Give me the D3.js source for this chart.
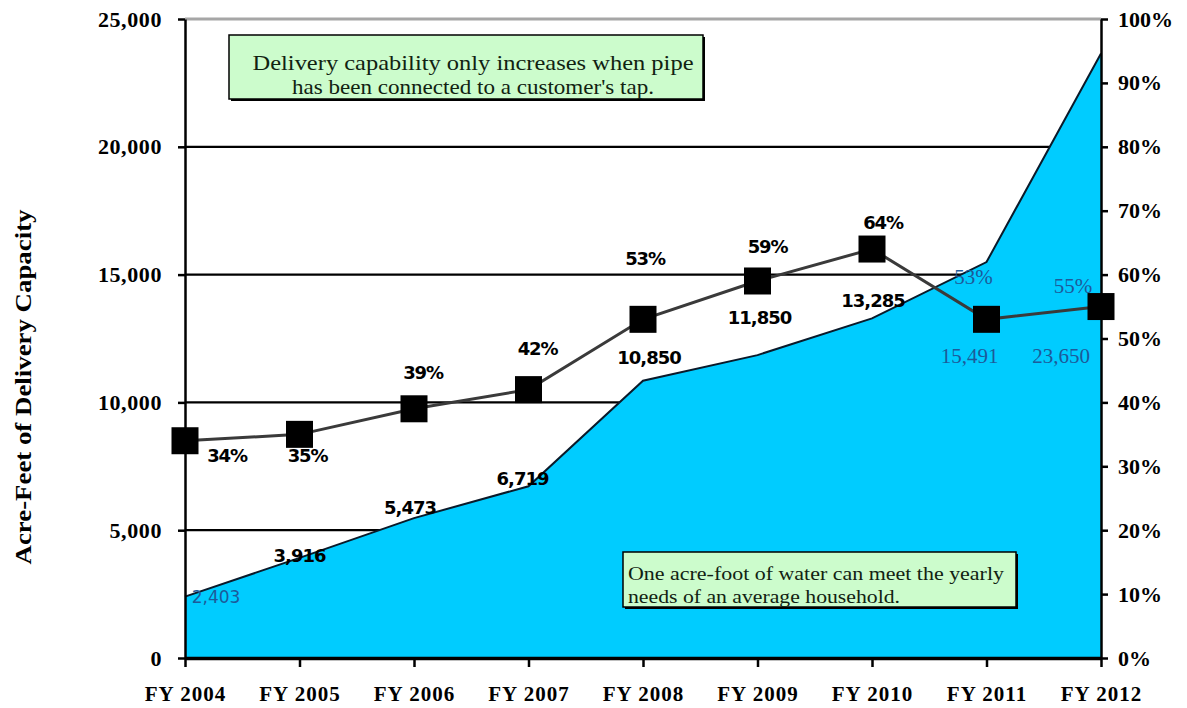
<!DOCTYPE html>
<html>
<head>
<meta charset="utf-8">
<script src="https://cdn.jsdelivr.net/npm/d3@7"></script>
<style>
  html, body { margin: 0; padding: 0; background: #fff; }
  svg { display: block; }
</style>
</head>
<body>
<svg id="chart" width="1187" height="708"></svg>
<script>
// ---- data ----
const years = ["FY 2004","FY 2005","FY 2006","FY 2007","FY 2008","FY 2009","FY 2010","FY 2011","FY 2012"];
const capacity = [2403, 3916, 5473, 6719, 10850, 11850, 13285, 15491, 23650];
const capacityLabels = ["2,403","3,916","5,473","6,719","10,850","11,850","13,285","15,491","23,650"];
const percent = [0.34, 0.35, 0.39, 0.42, 0.53, 0.59, 0.64, 0.53, 0.55];
const percentLabels = ["34%","35%","39%","42%","53%","59%","64%","53%","55%"];
const leftTicks = [0, 5000, 10000, 15000, 20000, 25000];
const rightTicks = [0, 0.1, 0.2, 0.3, 0.4, 0.5, 0.6, 0.7, 0.8, 0.9, 1.0];
const yTitle = "Acre-Feet of Delivery Capacity";
const note1 = ["Delivery capability only increases when pipe", "has been connected to a customer's tap."];
const note2 = ["One acre-foot of water  can meet the yearly", "needs of an average household."];

// ---- layout ----
const L = 185, R = 1101, T = 19, B = 658;
const svg = d3.select("#chart");
const x = d3.scalePoint().domain(years).range([L, R]);
const y = d3.scaleLinear().domain([0, 25000]).range([B, T]);
const yR = d3.scaleLinear().domain([0, 1]).range([B, T]);

const serif = "'Liberation Serif', 'Times New Roman', serif";
const sans = "'DejaVu Sans', Verdana, sans-serif";

// gridlines
const grid = svg.append("g");
grid.selectAll("line").data(leftTicks.filter(d => d > 0)).join("line")
  .attr("x1", L).attr("x2", R)
  .attr("y1", d => y(d)).attr("y2", d => y(d))
  .attr("stroke", d => d === 25000 ? "#a6a6a6" : "#000")
  .attr("stroke-width", d => d === 25000 ? 3 : 2.2);

// area
const area = d3.area().x((d, i) => x(years[i])).y0(y(0)).y1(d => y(d));
svg.append("path").datum(capacity).attr("d", area).attr("fill", "#00ccff");
const topLine = d3.line().x((d, i) => x(years[i])).y(d => y(d));
svg.append("path").datum(capacity).attr("d", topLine)
  .attr("fill", "none").attr("stroke", "#0a1a2a").attr("stroke-width", 2);

// axes
const ax = svg.append("g").attr("transform", `translate(${L},0)`)
  .call(d3.axisLeft(y).tickValues(leftTicks).tickFormat(d3.format(",")).tickSize(7).tickSizeOuter(0).tickPadding(16));
ax.select(".domain").attr("stroke", "#000").attr("stroke-width", 2.5);
ax.selectAll(".tick line").attr("stroke", "#000").attr("stroke-width", 2.5);
ax.selectAll("text").attr("font-family", serif).attr("font-weight", "bold").attr("font-size", 22)
  .attr("letter-spacing", 0.6).attr("fill", "#000");

const axr = svg.append("g").attr("transform", `translate(${R},0)`)
  .call(d3.axisRight(yR).tickValues(rightTicks).tickFormat(d3.format(".0%")).tickSize(7).tickSizeOuter(0).tickPadding(10));
axr.select(".domain").attr("stroke", "#000").attr("stroke-width", 2.5);
axr.selectAll(".tick line").attr("stroke", "#000").attr("stroke-width", 2.5);
axr.selectAll("text").attr("font-family", serif).attr("font-weight", "bold").attr("font-size", 22).attr("fill", "#000");

const axb = svg.append("g").attr("transform", `translate(0,${B})`)
  .call(d3.axisBottom(x).tickSize(9).tickSizeOuter(0).tickPadding(19));
axb.select(".domain").attr("stroke", "#000").attr("stroke-width", 3.5);
axb.selectAll(".tick line").attr("stroke", "#000").attr("stroke-width", 2.5);
axb.selectAll("text").attr("font-family", serif).attr("font-weight", "bold").attr("font-size", 21)
  .attr("letter-spacing", 1).attr("fill", "#000");

// percent line + squares
const pLine = d3.line().x((d, i) => x(years[i])).y(d => yR(d));
svg.append("path").datum(percent).attr("d", pLine)
  .attr("fill", "none").attr("stroke", "#3a3a3a").attr("stroke-width", 3);
const sq = 27;
svg.append("g").selectAll("rect").data(percent).join("rect")
  .attr("x", (d, i) => x(years[i]) - sq / 2)
  .attr("y", d => yR(d) - sq / 2)
  .attr("width", sq).attr("height", sq).attr("fill", "#000");

// label offsets (layout)
const pOff = [[42, 15], [8, 21], [9, -36], [9, -41], [2, -61], [10, -34], [11, -26], [-13, -43], [-28, -21]];
const vOff = [[31, 0], [0, -2], [-4, -10], [-6, -8], [6, -23], [2, -37], [1, -18], [-17, 94], [-40, 302]];
const blue = "#1d5a9a";

svg.append("g").selectAll("text").data(percentLabels).join("text")
  .attr("x", (d, i) => x(years[i]) + pOff[i][0])
  .attr("y", (d, i) => yR(percent[i]) + pOff[i][1])
  .attr("dy", "0.35em").attr("text-anchor", "middle")
  .attr("font-family", (d, i) => i >= 7 ? serif : sans)
  .attr("font-weight", (d, i) => i >= 7 ? "normal" : "bold")
  .attr("font-size", (d, i) => i >= 7 ? 21 : 18)
  .attr("letter-spacing", (d, i) => i >= 7 ? 0 : -1.2)
  .attr("fill", (d, i) => i >= 7 ? blue : "#000")
  .text(d => d);

svg.append("g").selectAll("text").data(capacityLabels).join("text")
  .attr("x", (d, i) => x(years[i]) + vOff[i][0])
  .attr("y", (d, i) => y(capacity[i]) + vOff[i][1])
  .attr("dy", "0.35em").attr("text-anchor", "middle")
  .attr("font-family", (d, i) => i >= 7 ? serif : sans)
  .attr("font-weight", (d, i) => (i === 0 || i >= 7) ? "normal" : "bold")
  .attr("font-size", (d, i) => i >= 7 ? 21 : (i === 0 ? 17 : 18))
  .attr("letter-spacing", (d, i) => (i === 0 || i >= 7) ? 0 : -1)
  .attr("fill", (d, i) => (i === 0 || i >= 7) ? blue : "#000")
  .text(d => d);

// y title
svg.append("text")
  .attr("transform", "translate(31,387) rotate(-90)")
  .attr("text-anchor", "middle")
  .attr("font-family", serif).attr("font-weight", "bold").attr("font-size", 24)
  .attr("textLength", 355).attr("lengthAdjust", "spacingAndGlyphs")
  .attr("fill", "#000")
  .text(yTitle);

// note boxes
function noteBox(x0, y0, w, h, lines, anchor, tx, baselines, lens, fs) {
  const g = svg.append("g");
  g.append("rect").attr("x", x0 + 2).attr("y", y0 + 2).attr("width", w).attr("height", h).attr("fill", "#000");
  g.append("rect").attr("x", x0).attr("y", y0).attr("width", w).attr("height", h)
    .attr("fill", "#ccfccc").attr("stroke", "#000").attr("stroke-width", 1.5);
  g.selectAll("text").data(lines).join("text")
    .attr("x", tx).attr("y", (d, i) => baselines[i])
    .attr("text-anchor", anchor)
    .attr("font-family", serif).attr("font-size", fs).attr("fill", "#112211")
    .attr("textLength", (d, i) => lens[i]).attr("lengthAdjust", "spacingAndGlyphs")
    .text(d => d);
}
noteBox(229, 35, 474, 64, note1, "middle", 473, [70, 94], [441, 362], 21);
noteBox(623, 552, 393, 55, note2, "start", 628, [580, 603], [376, 272], 19);
</script>
</body>
</html>
